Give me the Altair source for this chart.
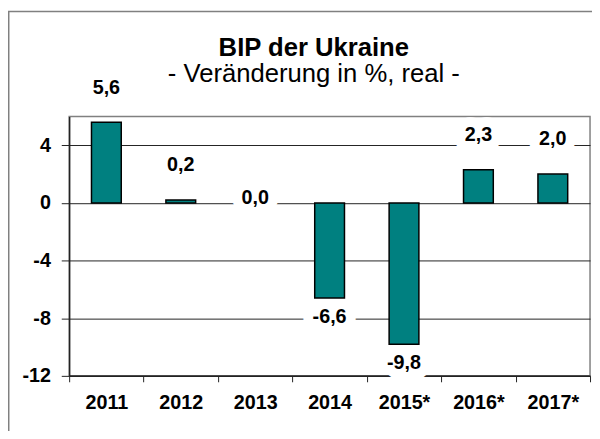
import altair as alt
import pandas as pd

years = ["2011", "2012", "2013", "2014", "2015*", "2016*", "2017*"]
growth = [5.6, 0.2, 0.0, -6.6, -9.8, 2.3, 2.0]
labels = [f"{v:.1f}".replace(".", ",") for v in growth]
y_ticks = [-12, -8, -4, 0, 4]

df = pd.DataFrame({"year": years, "growth": growth, "label": labels})
frame_df = pd.DataFrame({"k": [0]})

FONT = "Liberation Sans"
W, H = 528, 263

x_axis = alt.Axis(title=None, labelAngle=0, labelFont=FONT, labelFontSize=20,
                  labelFontWeight="bold", labelColor="black", labelPadding=11,
                  tickSize=6, tickBand="extent", domainColor="#222222",
                  tickColor="#222222", domainWidth=1.5, grid=False)
y_axis = alt.Axis(title=None, values=y_ticks, labelExpr="datum.value + ''",
                  labelFont=FONT, labelFontSize=20, labelFontWeight="bold",
                  labelColor="black", labelPadding=11, tickSize=8,
                  domainColor="#222222", tickColor="#222222", domainWidth=1.5,
                  grid=True, gridColor="#222222", gridWidth=1)
x_scale = alt.Scale(paddingInner=0, paddingOuter=0)
y_scale = alt.Scale(domain=[-12, 6], nice=False)

base = alt.Chart(df)

bars = base.mark_bar(
    width=alt.RelativeBandSize(0.4), color="#008080",
    stroke="black", strokeWidth=1.5,
).encode(
    x=alt.X("year:N", sort=years, scale=x_scale, axis=x_axis),
    y=alt.Y("growth:Q", scale=y_scale, axis=y_axis),
    y2=alt.datum(0),
)

lab = base.transform_calculate(
    pos="datum.growth > 0 ? datum.growth + 2.4 : (datum.growth < 0 ? datum.growth - 1.3 : datum.growth + 0.3)"
)
lab_enc = dict(
    x=alt.X("year:N", sort=years, scale=x_scale, axis=x_axis),
    y=alt.Y("pos:Q", scale=y_scale, axis=y_axis),
    text="label:N",
)
halo = lab.mark_text(
    font=FONT, fontSize=20, fontWeight="bold", color="white",
    stroke="white", strokeWidth=20, strokeJoin="round", baseline="middle",
).encode(**lab_enc)
text = lab.mark_text(
    font=FONT, fontSize=20, fontWeight="bold", color="black", baseline="middle",
).encode(**lab_enc)

frame = alt.Chart(frame_df).mark_rect(
    fillOpacity=0, stroke="#808080", strokeWidth=1.5,
).encode(x=alt.value(-61.25), y=alt.value(-106.25), x2=alt.value(W + 20), y2=alt.value(H + 80))

chart = alt.layer(frame, bars, halo, text).properties(
    width=W, height=H,
    title=alt.TitleParams(
        text="BIP der Ukraine",
        subtitle="- Veränderung in %, real -",
        font=FONT, fontSize=26, fontWeight="bold", color="black",
        subtitleFont=FONT, subtitleFontSize=26, subtitleColor="black",
        subtitlePadding=0, anchor="middle", frame="group", offset=-77, dx=-16,
    ),
    autosize=alt.AutoSizeParams(type="none"),
    padding={"left": 62, "top": 107, "right": 2, "bottom": 53},
).configure_view(stroke="#808080", strokeWidth=1.5)

chart.save("out.html", embed_options={"renderer": "svg", "actions": False})
